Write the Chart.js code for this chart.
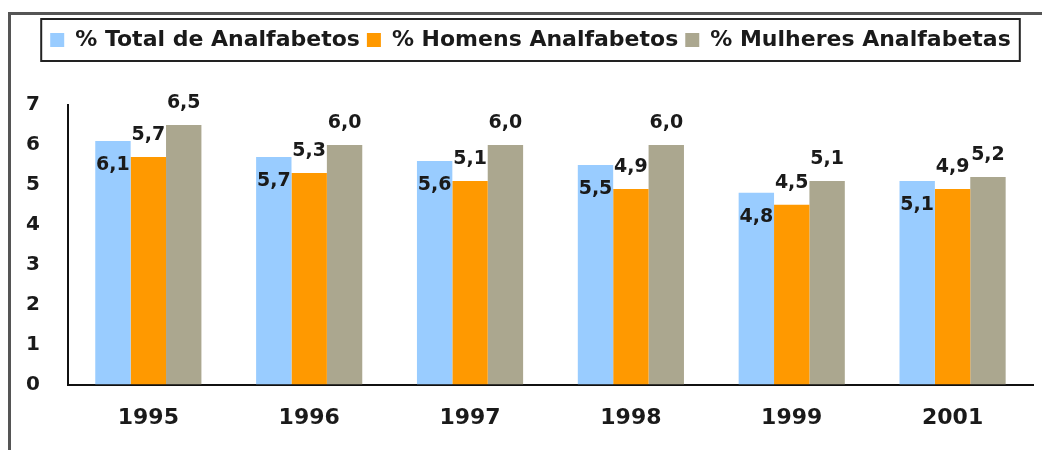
<!DOCTYPE html>
<html>
<head>
<meta charset="utf-8">
<script src="https://cdn.jsdelivr.net/npm/chart.js@4"></script>
<style>
  html, body { margin: 0; padding: 0; background: #fff; }
  #wrap { width: 1042px; height: 450px; }
</style>
</head>
<body>
<div id="wrap"><canvas id="chart" width="1042" height="450"></canvas></div>
<script>
const anos = ["1995", "1996", "1997", "1998", "1999", "2001"];
const total = [6.1, 5.7, 5.6, 5.5, 4.8, 5.1];
const homens = [5.7, 5.3, 5.1, 4.9, 4.5, 4.9];
const mulheres = [6.5, 6.0, 6.0, 6.0, 5.1, 5.2];
const yTicks = [0, 1, 2, 3, 4, 5, 6, 7];

const FONT = "'DejaVu Sans', Verdana, sans-serif";

// frame round the whole thing (left + top lines only, like the scan)
const framePlugin = {
  id: "frame",
  beforeDraw(chart) {
    const c = chart.ctx;
    c.save();
    c.fillStyle = "#fff";
    c.fillRect(0, 0, chart.width, chart.height);
    c.strokeStyle = "#555";
    c.lineWidth = 3;
    c.beginPath();
    c.moveTo(9.5, chart.height);
    c.lineTo(9.5, 13.5);
    c.lineTo(chart.width, 13.5);
    c.stroke();
    c.restore();
  }
};

// extra room under the legend, nudge it right a bit, and a box around it
const legendBox = {
  id: "legendBox",
  beforeInit(chart) {
    const fit = chart.legend.fit;
    chart.legend.fit = function () {
      fit.bind(chart.legend)();
      this.height += 44;
    };
  },
  afterLayout(chart) {
    const lg = chart.legend;
    const shift = 11;
    lg.left += shift;
    lg.right += shift;
    (lg.legendHitBoxes || []).forEach(h => { h.left += shift; });
  },
  afterDraw(chart) {
    const items = chart.legend.legendHitBoxes;
    if (!items || !items.length) return;
    const first = items[0], last = items[items.length - 1];
    const c = chart.ctx;
    c.save();
    c.strokeStyle = "#222";
    c.lineWidth = 2;
    c.strokeRect(first.left - 9, first.top - 10, last.left + last.width - first.left + 18, first.height + 20);
    c.restore();
  }
};

// value labels, Excel-style placement
const valueLabels = {
  id: "valueLabels",
  afterDatasetsDraw(chart) {
    const c = chart.ctx;
    c.save();
    c.font = "bold 19px " + FONT;
    c.fillStyle = "#1a1a1a";
    c.textAlign = "center";
    c.textBaseline = "middle";
    chart.data.datasets.forEach((ds, i) => {
      const meta = chart.getDatasetMeta(i);
      meta.data.forEach((bar, j) => {
        const txt = ds.data[j].toFixed(1).replace(".", ",");
        const dy = i === 0 ? 24 : -22;
        c.fillText(txt, bar.x, bar.y + dy);
      });
    });
    c.restore();
  }
};

new Chart(document.getElementById("chart"), {
  type: "bar",
  data: {
    labels: anos,
    datasets: [
      { label: "% Total de Analfabetos", data: total, backgroundColor: "#99ccff" },
      { label: "% Homens Analfabetos", data: homens, backgroundColor: "#ff9900" },
      { label: "% Mulheres Analfabetas", data: mulheres, backgroundColor: "#aba78f" }
    ]
  },
  options: {
    responsive: false,
    animation: false,
    layout: { padding: { left: 6, right: 9, top: 22, bottom: 7 } },
    datasets: { bar: { categoryPercentage: 0.66, barPercentage: 1.0 } },
    plugins: {
      legend: {
        position: "top",
        labels: {
          boxWidth: 14,
          boxHeight: 14,
          padding: 7,
          color: "#1a1a1a",
          font: { family: FONT, size: 22, weight: "bold" }
        }
      },
      tooltip: { enabled: false }
    },
    scales: {
      x: {
        grid: { display: false },
        border: { display: true, color: "#111", width: 2 },
        ticks: { color: "#1a1a1a", padding: 12, font: { family: FONT, size: 22, weight: "bold" } }
      },
      y: {
        min: 0,
        max: 7,
        grid: { display: false },
        border: { display: true, color: "#111", width: 2 },
        afterBuildTicks(axis) { axis.ticks = yTicks.map(v => ({ value: v })); },
        ticks: { color: "#1a1a1a", padding: 20, font: { family: FONT, size: 20, weight: "bold" } }
      }
    }
  },
  plugins: [framePlugin, legendBox, valueLabels]
});
</script>
</body>
</html>
